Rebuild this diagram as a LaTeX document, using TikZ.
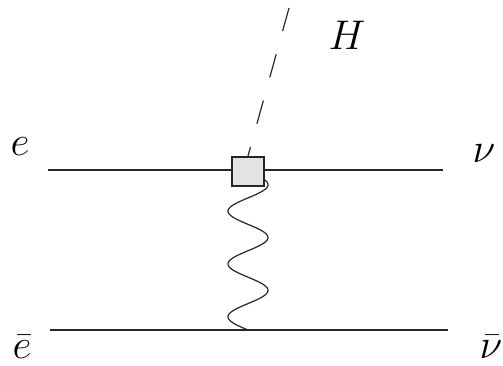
\documentclass[tikz,border=0pt]{standalone}
\usepackage{tikz}
\usetikzlibrary{positioning}
\tikzset{
  %% Particle lines
  fermion/.style={line width=0.6pt, black!85},
  scalar/.style={line width=0.6pt, black!85, dash pattern=on 12pt off 12pt},
  photon/.style={line width=0.6pt, black!85, smooth},
  %% Effective vertex
  vtxbox/.style={draw=black!85, fill=gray!22, line width=1pt,
    minimum width=16pt, minimum height=14.5pt, inner sep=0pt},
  %% Particle labels
  plabel/.style={font=\fontsize{20}{24}\selectfont, inner sep=0pt},
}

\begin{document}
\begin{tikzpicture}[x=0.5pt, y=-0.5pt]
\useasboundingbox (0,0) rectangle (503,365);

%% End points
\coordinate (eIn)    at (48,170);
\coordinate (nuOut)  at (443,170);
\coordinate (ebIn)   at (50,330);
\coordinate (nubOut) at (448,330);
\coordinate (hTop)   at (289,8);
\coordinate (wEnd)   at (248,330);

%% Fermion lines
\draw[fermion] (eIn) -- (nuOut);
\draw[fermion] (ebIn) -- (nubOut);

%% W exchange (behind the vertex), three periods down to wEnd
\coordinate (wStart) at (248,171.5);
\draw[photon] plot[domain=0:1080, samples=160]
  ({248+20*sin(\x)}, {171.5+\x/1080*158.5}) -- (wEnd);

%% Vertex
\node[vtxbox] (vtx) at (248,171.5) {};

%% Higgs
\draw[scalar] (hTop) -- (vtx.north);

%% Labels
\node[plabel] (lblE)   at (20,147)  {$e$};
\node[plabel] (lblNu)  at (484,154) {$\nu$};
\node[plabel] (lblEb)  at (22,347)  {$\bar{e}$};
\node[plabel] (lblNub) at (491,347) {$\bar{\nu}$};
\node[plabel] (lblH)   at (347,35)  {$H$};

\end{tikzpicture}
\end{document}
